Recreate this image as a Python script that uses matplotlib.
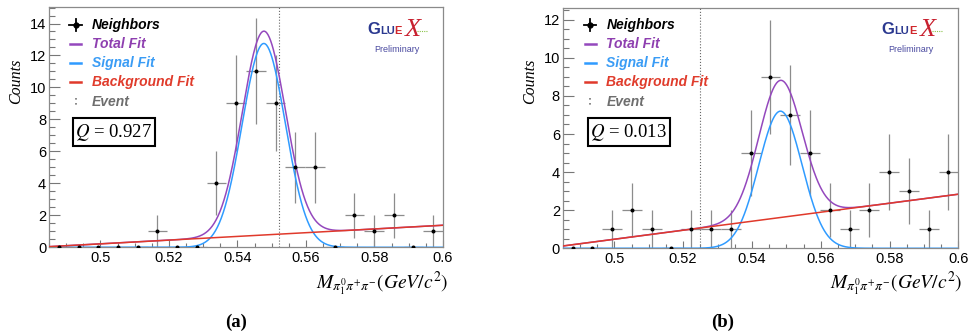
import numpy as np
import matplotlib
matplotlib.use('Agg')
import matplotlib.pyplot as plt
from matplotlib.lines import Line2D
from matplotlib.patches import Rectangle
from matplotlib.ticker import MultipleLocator, FormatStrFormatter

plt.rcParams['font.family'] = ['Liberation Sans', 'DejaVu Sans']
plt.rcParams['mathtext.fontset'] = 'stix'

# binning of the neighbor histograms
x_min, x_max, n_bins = 0.485, 0.6, 20

# counts per bin
counts_a = [0, 0, 0, 0, 0, 1, 0, 0, 4, 9, 11, 9, 5, 5, 0, 2, 1, 2, 0, 1]
counts_b = [0, 0, 1, 2, 1, 0, 1, 1, 1, 5, 9, 7, 5, 2, 1, 2, 4, 3, 1, 4]

# fit parameters (gaussian signal + linear background)
signal_a = dict(amp=12.75, mean=0.5477, sigma=0.0063)
signal_b = dict(amp=7.2, mean=0.5483, sigma=0.0063)
background_a = dict(left=0.04, right=1.38)   # value at x_min and at x_max
background_b = dict(left=0.12, right=2.84)

event_a = 0.5522
event_b = 0.5249
q_a = '0.927'
q_b = '0.013'

W, H = 976, 334
C_TOTAL = '#9448bd'
C_SIGNAL = '#2f9bff'
C_BKG = '#e0392b'


def fx(px):
    return px / W


def fy(py):
    return 1 - py / H


def draw_panel(fig, rect_px, dx, counts, sig, bkg, event, q, tag, tag_x):
    left, top, right, bottom = rect_px
    ax = fig.add_axes([fx(left), fy(bottom), (right - left) / W, (bottom - top) / H])

    width = (x_max - x_min) / n_bins
    centers = x_min + width * (np.arange(n_bins) + 0.5)
    counts = np.array(counts, dtype=float)
    errors = np.sqrt(counts)

    ax.errorbar(centers, counts, xerr=width / 2, yerr=errors, fmt='none',
                ecolor='#8c8c8c', elinewidth=0.9, capsize=0, zorder=2)

    x = np.linspace(x_min, x_max, 600)
    signal = sig['amp'] * np.exp(-(x - sig['mean']) ** 2 / (2 * sig['sigma'] ** 2))
    background = bkg['left'] + (bkg['right'] - bkg['left']) * (x - x_min) / (x_max - x_min)
    ax.plot(x, signal + background, color=C_TOTAL, lw=1.1, zorder=3)
    ax.plot(x, signal, color=C_SIGNAL, lw=1.1, zorder=3)
    ax.plot(x, background, color=C_BKG, lw=1.1, zorder=3)
    ax.scatter(centers, counts, s=3.5, color='black', zorder=4)
    ax.axvline(event, color='#666666', ls=':', lw=0.8, zorder=1)

    ax.set_xlim(x_min, x_max)
    ax.set_ylim(0, 1.05 * max(counts + errors))
    ax.xaxis.set_major_locator(MultipleLocator(0.02))
    ax.xaxis.set_minor_locator(MultipleLocator(0.005))
    ax.xaxis.set_major_formatter(FormatStrFormatter('%g'))
    ax.yaxis.set_major_locator(MultipleLocator(2))
    ax.yaxis.set_minor_locator(MultipleLocator(0.5))
    ax.tick_params(axis='both', which='both', direction='in', colors='#777777',
                   labelcolor='black', labelsize=10.5, width=0.8)
    ax.tick_params(axis='y', which='major', length=8, pad=2)
    ax.tick_params(axis='y', which='minor', length=4)
    ax.tick_params(axis='x', which='major', length=5.2, pad=3)
    ax.tick_params(axis='x', which='minor', length=2.6)
    for sp in ax.spines.values():
        sp.set_color('#8a8a8a')
        sp.set_linewidth(0.9)

    # legend
    rows = [25, 44.3, 63.3, 81.7, 102.3]
    hx = 75.5 + dx
    fig.add_artist(Line2D([fx(hx - 6.2), fx(hx + 6.2)], [fy(rows[0])] * 2, color='black', lw=1.3))
    fig.add_artist(Line2D([fx(hx)] * 2, [fy(rows[0] - 6.2), fy(rows[0] + 6.2)], color='black', lw=1.3))
    fig.add_artist(Line2D([fx(hx)], [fy(rows[0])], marker='o', ms=3.5, color='black'))
    for r, c in zip(rows[1:4], [C_TOTAL, C_SIGNAL, C_BKG]):
        fig.add_artist(Line2D([fx(hx - 5.5), fx(hx + 5.5)], [fy(r)] * 2, color=c, lw=1.8))
    fig.add_artist(Line2D([fx(hx)] * 2, [fy(rows[4] - 4.5), fy(rows[4] + 4.5)],
                          color='#777777', lw=1.2, ls=(0, (1, 2))))
    labels = ['Neighbors', 'Total Fit', 'Signal Fit', 'Background Fit', 'Event']
    colors = ['black', '#8e3fb0', '#3a9cf5', '#e03c2c', '#6e6e6e']
    for r, lab, c in zip(rows, labels, colors):
        fig.text(fx(92 + dx), fy(r), lab, color=c, fontsize=10, fontweight='bold',
                 fontstyle='italic', ha='left', va='center')

    # Q box
    fig.add_artist(Rectangle((fx(73 + dx), fy(146)), (155 - 73) / W, 28 / H,
                             transform=fig.transFigure, facecolor='white',
                             edgecolor='black', lw=1.5))
    fig.text(fx(114 + dx), fy(132.5), '$Q$ = ' + q, family='Liberation Serif',
             fontsize=13.5, ha='center', va='center')

    # GlueX logo
    fig.text(fx(367 + dx), fy(34.5), 'G', color='#2b3990', fontsize=12,
             fontweight='heavy', ha='left', va='baseline')
    fig.text(fx(380 + dx), fy(34.5), 'LU', color='#2b3990', fontsize=8,
             fontweight='bold', ha='left', va='baseline')
    fig.text(fx(394.5 + dx), fy(34.5), 'E', color='#d0262b', fontsize=8,
             fontweight='bold', ha='left', va='baseline')
    fig.text(fx(405 + dx), fy(36), 'X', color='#c8202f', fontsize=19,
             family='Liberation Serif', fontstyle='italic', ha='left', va='baseline')
    fig.add_artist(Line2D([fx(417 + dx), fx(427 + dx)], [fy(30.5)] * 2, color='#8bc34a',
                          lw=0.8, ls=(0, (1, 1))))
    fig.text(fx(396.5 + dx), fy(50), 'Preliminary', color='#4a4aa0', fontsize=6.5,
             ha='center', va='center')

    # axis titles
    fig.text(fx(16 + dx), fy(81), 'Counts', family='Liberation Serif', fontstyle='italic',
             fontsize=11.5, rotation=90, ha='center', va='center')
    fig.text(fx(448 + dx), fy(289), r'$M_{\pi^{0}_{1}\pi^{+}\pi^{-}}(GeV/c^{2})$',
             fontsize=14, ha='right', va='baseline')
    fig.text(fx(tag_x), fy(322), tag, family='Liberation Serif', fontweight='bold',
             fontsize=13.5, ha='center', va='center')
    return ax


fig = plt.figure(figsize=(W / 100, H / 100), dpi=100)
draw_panel(fig, (49, 7, 443, 247.3), 0, counts_a, signal_a, background_a,
           event_a, q_a, '(a)', 236)
draw_panel(fig, (562.7, 8.3, 958.3, 248.3), 514.5, counts_b, signal_b, background_b,
           event_b, q_b, '(b)', 723)
fig.savefig('out.png', dpi=100)
